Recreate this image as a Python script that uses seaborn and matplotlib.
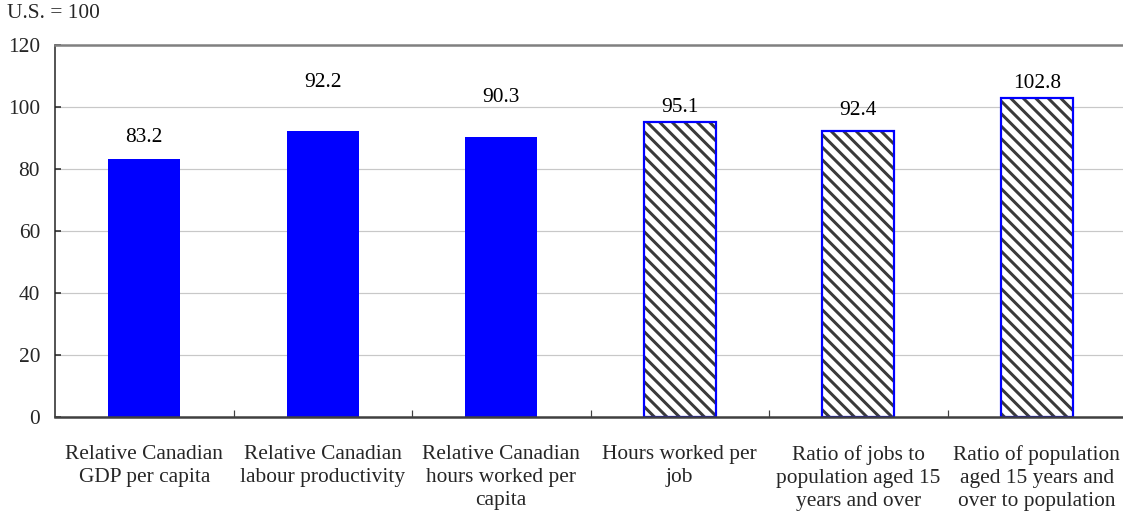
import matplotlib
matplotlib.use("Agg")
import matplotlib.pyplot as plt
import matplotlib.colors as mcolors
import seaborn as sns
import pandas as pd

# Chart data
categories = [
    "Relative Canadian\nGDP per capita",
    "Relative Canadian\nlabour productivity",
    "Relative Canadian\nhours worked per\ncapita",
    "Hours worked per\njob",
    "Ratio of jobs to\npopulation aged 15\nyears and over",
    "Ratio of population\naged 15 years and\nover to population",
]
values = [83.2, 92.2, 90.3, 95.1, 92.4, 102.8]
value_labels = ["83.2", "92.2", "90.3", "95.1", "92.4", "102.8"]
y_ticks = [0, 20, 40, 60, 80, 100, 120]

# Layout / styling
DPI = 75
PT = 72.0 / DPI  # points per pixel
W, H = 1123, 515
FS = 21.4 * PT
label_base = [88.8, 106.3, 101.7, 98.4, 97.5, 106.0]  # label baselines (data units)
solid = [True, True, True, False, False, False]

sns.set_theme(style="white")
plt.rcParams["font.family"] = ["Liberation Serif", "DejaVu Serif"]
plt.rcParams["hatch.linewidth"] = 3.0 * PT

fig = plt.figure(figsize=(W / DPI, H / DPI), dpi=DPI)
ax = fig.add_axes([55 / W, 1 - 417 / H, (1126 - 55) / W, (417 - 45) / H])

df = pd.DataFrame({"cat": categories, "val": values})
sns.barplot(data=df, x="cat", y="val", hue="cat", palette=["#0000ff"] * 6,
            legend=False, width=0.405, ax=ax, zorder=2)

for p, s in zip(ax.patches, solid):
    if s:
        p.set_facecolor("#0000ff")
        p.set_edgecolor("none")
        p.set_linewidth(0)
    else:
        p.set_facecolor("white")
        p.set_edgecolor("#0000ff")
        p.set_linewidth(2.2 * PT)
        p.set_hatch("\\\\")
        if hasattr(p, "set_hatchcolor"):
            p.set_hatchcolor("#3a3a3a")
        else:
            p._hatch_color = mcolors.to_rgba("#3a3a3a")

for i, (txt, ly) in enumerate(zip(value_labels, label_base)):
    ax.text(i, ly, txt, ha="center", va="baseline", fontsize=FS, color="black")

ax.set_xlim(-0.5, 5.5)
ax.set_ylim(0, 120)
ax.set_yticks(y_ticks)
ax.set_yticklabels([str(v) for v in y_ticks], fontsize=FS)
ax.yaxis.grid(True, color="#c8c8c8", linewidth=1.2 * PT, zorder=0)
ax.set_axisbelow(True)

ax.set_xticks(range(len(categories)))
ax.set_xticklabels(categories, fontsize=FS, linespacing=1.3)
ax.set_xticks([0.5, 1.5, 2.5, 3.5, 4.5], minor=True)
ax.tick_params(axis="x", which="major", length=0, pad=28 * PT)
ax.tick_params(axis="x", which="minor", direction="in", length=7 * PT,
               width=1.2 * PT, color="#404040", bottom=True)
ax.tick_params(axis="y", direction="in", length=6 * PT, width=1.5 * PT,
               color="#202020", pad=15 * PT, left=True)
ax.set_xlabel("")
ax.set_ylabel("")

for side in ("left", "bottom", "top", "right"):
    ax.spines[side].set_visible(True)
ax.spines["left"].set_color("#202020")
ax.spines["left"].set_linewidth(1.5 * PT)
ax.spines["bottom"].set_color("#404040")
ax.spines["bottom"].set_linewidth(2.5 * PT)
ax.spines["top"].set_color("#808080")
ax.spines["top"].set_linewidth(2.5 * PT)
ax.spines["right"].set_visible(False)

fig.text(7 / W, 1 - 18.5 / H, "U.S. = 100", ha="left", va="baseline", fontsize=FS)

fig.savefig("out.png", dpi=DPI)
